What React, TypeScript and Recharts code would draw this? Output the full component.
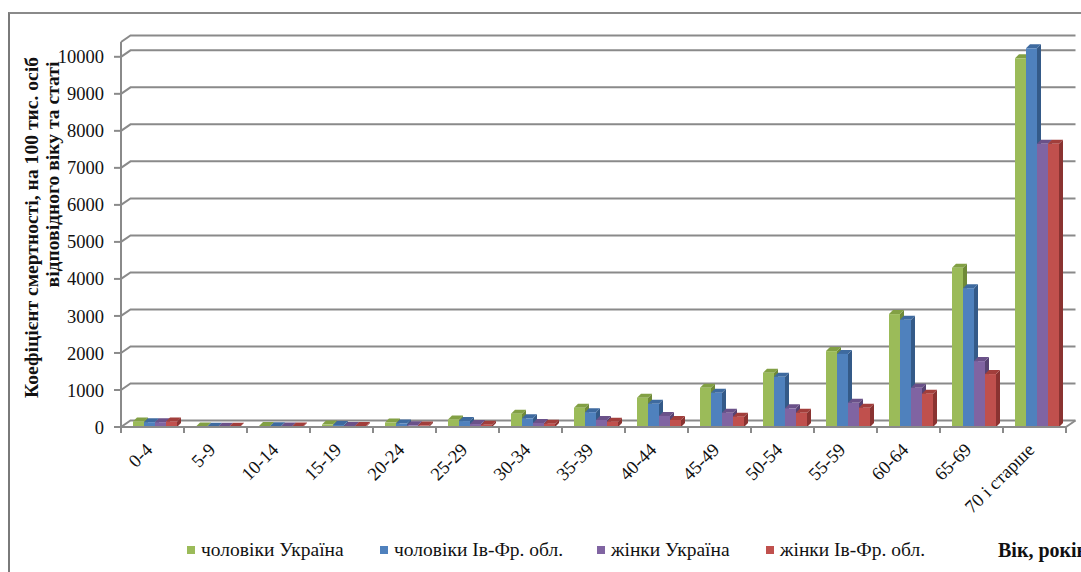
import React from 'react';
import { BarChart, Bar, XAxis, YAxis, CartesianGrid, Legend } from 'recharts';

// ---- data ----
const categories = ['0-4', '5-9', '10-14', '15-19', '20-24', '25-29', '30-34', '35-39', '40-44', '45-49', '50-54', '55-59', '60-64', '65-69', '70 і старше'];
const menUkraine = [150, 15, 25, 65, 120, 205, 360, 520, 790, 1060, 1465, 2050, 3050, 4300, 9960];
const menIvFr = [130, 10, 20, 55, 95, 160, 235, 400, 630, 925, 1355, 1975, 2900, 3750, 10230];
const womenUkraine = [130, 10, 15, 30, 45, 80, 110, 190, 300, 385, 505, 655, 1060, 1780, 7650];
const womenIvFr = [150, 8, 12, 25, 40, 60, 90, 145, 190, 280, 385, 520, 900, 1430, 7650];
const yTicks = [0, 1000, 2000, 3000, 4000, 5000, 6000, 7000, 8000, 9000, 10000];
const seriesNames = ['чоловіки Україна', 'чоловіки Ів-Фр. обл.', 'жінки Україна', 'жінки Ів-Фр. обл.'];
const yTitle1 = 'Коефіцієнт смертності,  на 100 тис. осіб';
const yTitle2 = 'відповідного віку та статі';
const xTitle = 'Вік, років';

const seriesKeys = ['mUA', 'mIF', 'wUA', 'wIF'];
const palette = [
  { front: '#9BBB59', top: '#82A044', side: '#6F8A38' },
  { front: '#4F81BD', top: '#3E6A9F', side: '#345A88' },
  { front: '#8064A2', top: '#6A5189', side: '#574372' },
  { front: '#C0504D', top: '#A23E3B', side: '#8A3331' },
];

const data = categories.map((age, i) => ({
  age,
  mUA: menUkraine[i],
  mIF: menIvFr[i],
  wUA: womenUkraine[i],
  wIF: womenIvFr[i],
}));

const FONT = '"Liberation Serif", "Times New Roman", serif';
const GRID = '#8a8a8a';

const makeShape = (col: { front: string; top: string; side: string }) => (props: any) => {
  const { x, y, width, height } = props;
  if (x == null || y == null || !width) return <g />;
  const h = Math.max(0, height || 0);
  const X = x + 2;
  const dx = 4;
  const dy = 4;
  return (
    <g>
      <polygon
        points={`${X + width},${y + h} ${X + width + dx},${y + h - dy} ${X + width + dx},${y - dy} ${X + width},${y}`}
        fill={col.side}
      />
      <polygon points={`${X},${y} ${X + dx},${y - dy} ${X + width + dx},${y - dy} ${X + width},${y}`} fill={col.top} />
      <rect x={X} y={y} width={width} height={h} fill={col.front} />
    </g>
  );
};

const gridLine = (props: any) => {
  const { x1, y1, x2, key } = props;
  const bx = 9.5;
  const by = 6.5;
  return (
    <g key={key}>
      <path d={`M${x1},${y1} L${x1 + bx},${y1 - by} L${x2 + bx},${y1 - by}`} stroke={GRID} strokeWidth={2} fill="none" />
      {y1 > 400 ? <path d={`M${x2},${y1} L${x2 + bx},${y1 - by}`} stroke={GRID} strokeWidth={2} fill="none" /> : null}
    </g>
  );
};

const XTick = (props: any) => {
  const { x, y, payload, index } = props;
  const band = 945 / categories.length;
  const left = x - band / 2;
  const isLast = index === categories.length - 1;
  const ax = x + 1;
  const ay = y + 24;
  return (
    <g>
      <line x1={left} y1={y} x2={left} y2={y + 6} stroke={GRID} strokeWidth={2} />
      {isLast ? <line x1={x + band / 2} y1={y} x2={x + band / 2} y2={y + 6} stroke={GRID} strokeWidth={2} /> : null}
      <text
        x={ax}
        y={ay}
        textAnchor="end"
        fontFamily={FONT}
        fontSize={18.5}
        fill="#111"
        transform={`rotate(-45, ${ax}, ${ay})`}
      >
        {payload.value}
      </text>
    </g>
  );
};

const YTitle = () => (
  <g>
    <text
      x={31}
      y={227.5}
      textAnchor="middle"
      dominantBaseline="central"
      fontFamily={FONT}
      fontWeight="bold"
      fontSize={19.6}
      fill="#111"
      transform="rotate(-90, 31, 227.5)"
    >
      {yTitle1}
    </text>
    <text
      x={52}
      y={174.5}
      textAnchor="middle"
      dominantBaseline="central"
      fontFamily={FONT}
      fontWeight="bold"
      fontSize={19.6}
      fill="#111"
      transform="rotate(-90, 52, 174.5)"
    >
      {yTitle2}
    </text>
  </g>
);

const XTitle = () => (
  <text x={998} y={557} fontFamily={FONT} fontWeight="bold" fontSize={20} fill="#111">
    {xTitle}
  </text>
);

const legendLefts = [187, 380, 597, 766];

const LegendContent = () => (
  <div style={{ position: 'relative', width: 1081, height: 20, fontFamily: FONT, fontSize: 19.5, color: '#111' }}>
    {seriesNames.map((n, i) => (
      <div
        key={n}
        style={{ position: 'absolute', left: legendLefts[i], top: 0, height: 20, lineHeight: '20px', whiteSpace: 'nowrap' }}
      >
        <span
          style={{
            display: 'inline-block',
            width: 8,
            height: 8,
            background: palette[i].front,
            marginRight: 6,
            verticalAlign: 'middle',
            position: 'relative',
            top: -2,
          }}
        />
        {n}
      </div>
    ))}
  </div>
);

export default function App() {
  return (
    <div style={{ position: 'absolute', left: 0, top: 0, width: 1081, height: 572, background: '#fff', overflow: 'hidden', fontFamily: FONT }}>
      <div
        style={{
          position: 'absolute',
          left: 8,
          top: 12,
          width: 1081,
          height: 600,
          borderLeft: '2px solid #7a7a7a',
          borderTop: '2px solid #8a8a8a',
          boxSizing: 'border-box',
        }}
      />
      <BarChart
        width={1081}
        height={572}
        data={data}
        margin={{ top: 42, right: 15, left: 0, bottom: 45 }}
        barGap={0}
        barSize={11}
        style={{ position: 'absolute', left: 0, top: 0 }}
      >
        <CartesianGrid vertical={false} horizontal={gridLine} />
        <XAxis
          dataKey="age"
          height={100}
          interval={0}
          tickLine={false}
          tickSize={0}
          tickMargin={0}
          axisLine={{ stroke: GRID, strokeWidth: 2 }}
          tick={<XTick />}
          label={{ content: () => <XTitle /> }}
        />
        <YAxis
          width={121}
          domain={[0, 10400]}
          ticks={yTicks}
          interval={0}
          tickSize={7}
          tickMargin={10}
          tickLine={{ stroke: GRID, strokeWidth: 2 }}
          axisLine={{ stroke: GRID, strokeWidth: 2 }}
          tick={{ fontFamily: FONT, fontSize: 18.5, fill: '#111' }}
          label={{ content: () => <YTitle /> }}
        />
        <Legend
          layout="horizontal"
          verticalAlign="middle"
          align="center"
          wrapperStyle={{ top: 540, left: 0, width: 1081, height: 20 }}
          content={() => <LegendContent />}
        />
        {seriesKeys.map((k, i) => (
          <Bar key={k} dataKey={k} name={seriesNames[i]} fill={palette[i].front} isAnimationActive={false} shape={makeShape(palette[i])} />
        ))}
      </BarChart>
    </div>
  );
}
